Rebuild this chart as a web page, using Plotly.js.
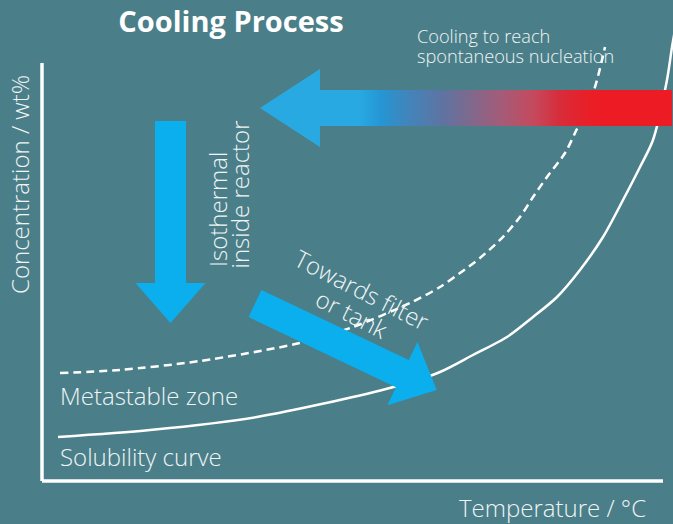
<!DOCTYPE html>
<html>
<head>
<meta charset="utf-8">
<script src="https://cdn.plot.ly/plotly-3.0.1.min.js"></script>
<style>html,body{margin:0;padding:0;background:#4a7f89;}#chart{width:673px;height:524px;}</style>
</head>
<body>
<div id="chart"></div>
<script>
// ---- data (temperature / concentration in relative units, 0-100 along each axis) ----
const solubilityT = [2.58, 17.39, 34.62, 55.39, 64.09, 69.40, 74.88, 79.07, 82.93, 86.63, 90.34, 93.56, 96.30, 98.39, 100.64, 101.45, 101.93];
const solubilityC = [10.53, 12.20, 15.31, 22.01, 26.08, 30.14, 34.45, 39.23, 44.02, 50.48, 58.37, 67.22, 75.12, 81.58, 95.93, 103.83, 107.89];
const metastableT = [2.90, 12.56, 25.44, 41.55, 50.08, 59.26, 64.09, 67.31, 70.53, 73.75, 76.97, 79.07, 81.32, 84.22, 85.83, 88.89, 90.66];
const metastableC = [25.84, 26.56, 28.71, 33.01, 36.84, 42.58, 46.41, 49.76, 53.35, 57.66, 63.16, 67.94, 72.73, 78.47, 83.25, 93.54, 103.83];

const arrowNames = ['cooling', 'isothermal', 'transfer'];
const arrowTailT = [101.45, 20.69, 34.30];
const arrowTailC = [89.23, 86.12, 42.46];
const arrowTipT  = [35.10, 20.69, 63.56];
const arrowTipC  = [89.23, 37.80, 21.77];

// ---- layout / style ----
const W = 673, H = 524;
const M = {l: 30, r: 0, t: 0, b: 30};
const X_RANGE = [-1.932, 101.61];
const Y_RANGE = [-3.11, 115.07];
const BG = '#4a7f89';
const FONT = '"Open Sans", "Noto Sans", sans-serif';
const TXT = '#f1f4f5';
const arrowShaft = [36, 31, 30];
const arrowHeadW = [78, 70, 70];
const arrowHeadL = [60, 40, 38];

const kx = (W - M.l - M.r) / (X_RANGE[1] - X_RANGE[0]);
const ky = (H - M.t - M.b) / (Y_RANGE[1] - Y_RANGE[0]);

function arrowPolygon(i) {
  const ax = arrowTailT[i] * kx, ay = arrowTailC[i] * ky;
  const bx = arrowTipT[i] * kx, by = arrowTipC[i] * ky;
  const len = Math.hypot(bx - ax, by - ay);
  const ux = (bx - ax) / len, uy = (by - ay) / len;
  const nx = -uy, ny = ux;
  const s = arrowShaft[i] / 2, h = arrowHeadW[i] / 2;
  const neckx = bx - ux * arrowHeadL[i], necky = by - uy * arrowHeadL[i];
  const pts = [
    [ax + nx * s, ay + ny * s],
    [neckx + nx * s, necky + ny * s],
    [neckx + nx * h, necky + ny * h],
    [bx, by],
    [neckx - nx * h, necky - ny * h],
    [neckx - nx * s, necky - ny * s],
    [ax - nx * s, ay - ny * s],
    [ax + nx * s, ay + ny * s]
  ];
  return {x: pts.map(p => p[0] / kx), y: pts.map(p => p[1] / ky)};
}

const traces = [
  {x: solubilityT, y: solubilityC, type: 'scatter', mode: 'lines',
   line: {color: '#ffffff', width: 2.5, shape: 'spline', smoothing: 0.8}, hoverinfo: 'skip'},
  {x: metastableT, y: metastableC, type: 'scatter', mode: 'lines',
   line: {color: '#ffffff', width: 2.5, dash: '8px,5px', shape: 'spline', smoothing: 0.8}, hoverinfo: 'skip'}
];

arrowNames.forEach((name, i) => {
  const p = arrowPolygon(i);
  const t = {x: p.x, y: p.y, type: 'scatter', mode: 'lines', fill: 'toself',
             line: {width: 0, color: 'rgba(0,0,0,0)'}, hoverinfo: 'skip', name: name};
  if (name === 'cooling') {
    t.fillcolor = '#29a9e1';
    t.fillgradient = {
      type: 'horizontal',
      start: 49.6, stop: 89.9,
      colorscale: [
        [0, '#29a9e1'], [0.04, '#29a9e1'], [0.12, '#2497d4'], [0.2, '#3a89c2'],
        [0.372, '#5f73a1'], [0.468, '#7b6a8f'], [0.6, '#a35c79'], [0.732, '#c44a5e'],
        [0.84, '#d82c3a'], [0.96, '#ea1e27'], [1, '#ed1c24']
      ]
    };
  } else {
    t.fillcolor = '#0bafee';
  }
  traces.push(t);
});

const shapes = [
  {type: 'line', xref: 'x', yref: 'y', x0: 0, y0: 0, x1: 0, y1: 100, line: {color: '#ffffff', width: 3.5}},
  {type: 'line', xref: 'x', yref: 'y', x0: 0, y0: 0, x1: 100, y1: 0, line: {color: '#ffffff', width: 3.5}}
];

function ann(text, x, y, opts, size) {
  return Object.assign({text: text, x: x, y: y, xref: 'x', yref: 'y', showarrow: false,
    xanchor: 'center', yanchor: 'middle',
    font: {family: FONT, size: size || 24, color: TXT, weight: 300}}, opts || {});
}

const annotations = [
  ann('<span style="font-size:18.2px">Cooling to reach</span><br><span style="font-size:18.2px">spontaneous nucleation</span>',
      60.06, 104.0, {xanchor: 'left', align: 'left'}, 15.4),
  ann('Concentration / wt%', -0.0171, 0.6255, {xref: 'paper', yref: 'paper', textangle: -90}),
  ann('Isothermal', 28.18, 64.83, {textangle: -90}),
  ann('inside reactor', 31.88, 68.54, {textangle: -90}),
  ann('Towards filter', 51.53, 45.93, {textangle: 27}),
  ann('or tank', 49.92, 40.19, {textangle: 27}),
  ann('Metastable zone', 2.58, 20.57, {xanchor: 'left'}),
  ann('Solubility curve', 2.58, 5.86, {xanchor: 'left'}),
  ann('Temperature / °C', 0.9611, -0.0273, {xref: 'paper', yref: 'paper', xanchor: 'right'})
];

const layout = {
  width: W, height: H,
  margin: M,
  paper_bgcolor: BG, plot_bgcolor: BG,
  showlegend: false,
  title: {text: '<b>Cooling Process</b>', x: 231 / W, xanchor: 'center', y: 1 - 22 / H, yanchor: 'middle',
          font: {family: FONT, size: 29, color: '#ffffff'}},
  xaxis: {range: X_RANGE, visible: false, fixedrange: true},
  yaxis: {range: Y_RANGE, visible: false, fixedrange: true},
  shapes: shapes,
  annotations: annotations
};

Plotly.newPlot('chart', traces, layout, {staticPlot: true, displayModeBar: false});
</script>
</body>
</html>
